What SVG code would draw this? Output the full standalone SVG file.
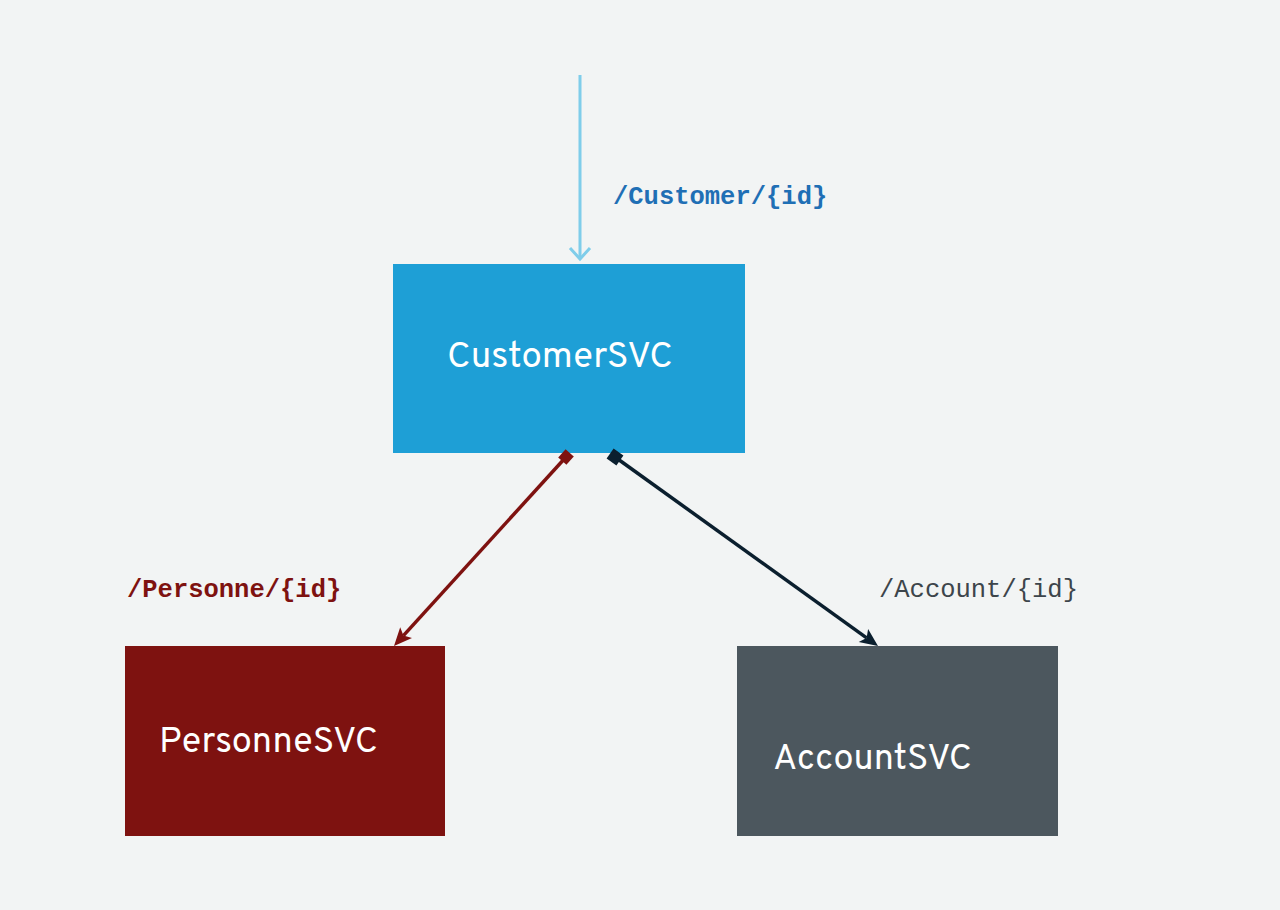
<svg xmlns="http://www.w3.org/2000/svg" width="1280" height="910" viewBox="0 0 1280 910">
<defs>
<style>
.node-label{font-family:"Overpass","Open Sans","Liberation Sans",sans-serif;font-size:36px;fill:#ffffff}
.edge-label{font-family:"Liberation Mono","Courier New",monospace;font-size:25.5px}
.red{fill:#7E1210}
.dark{fill:#0B1F2E}
</style>
</defs>
<rect width="1280" height="910" fill="#F2F4F4"/>
<g id="CustomerSVC">
<rect x="393" y="264" width="352" height="189" fill="#1E9FD6"/>
<text class="node-label" x="447" y="367" textLength="226" lengthAdjust="spacingAndGlyphs">CustomerSVC</text>
</g>
<g id="PersonneSVC">
<rect x="125" y="646" width="320" height="190" fill="#7E1210"/>
<text class="node-label" x="159" y="752" textLength="219" lengthAdjust="spacingAndGlyphs">PersonneSVC</text>
</g>
<g id="AccountSVC">
<rect x="737" y="646" width="321" height="190" fill="#4C575E"/>
<text class="node-label" x="773" y="769" textLength="199" lengthAdjust="spacingAndGlyphs">AccountSVC</text>
</g>
<g id="connectors">
<line x1="580" y1="75" x2="580" y2="259" stroke="#7FCDEA" stroke-width="3"/>
<polyline points="570,248 580,259 590,248" fill="none" stroke="#7FCDEA" stroke-width="3"/>
<line x1="566" y1="457" x2="403.4" y2="635.6" stroke="#7E1210" stroke-width="3.5"/>
<polygon class="red" points="566.4,464.8 558.2,457.4 565.6,449.2 573.8,456.6"/>
<polygon class="red" points="394,646 400.2,627.3 403.4,635.6 412.0,638.1"/>
<line x1="615" y1="457" x2="866.6" y2="637.9" stroke="#0B1F2E" stroke-width="3.5"/>
<polygon class="dark" points="616.4,465.4 623.4,455.6 613.6,448.6 606.6,458.4"/>
<polygon class="dark" points="878,646 858.7,642.0 866.6,637.9 868.1,629.0"/>
<text class="edge-label" x="613" y="204" fill="#1F6FB5" font-weight="bold">/Customer/{id}</text>
<text class="edge-label" x="127" y="597" fill="#7E1210" font-weight="bold">/Personne/{id}</text>
<text class="edge-label" x="879" y="597" fill="#3D454B">/Account/{id}</text>
</g>
</svg>
